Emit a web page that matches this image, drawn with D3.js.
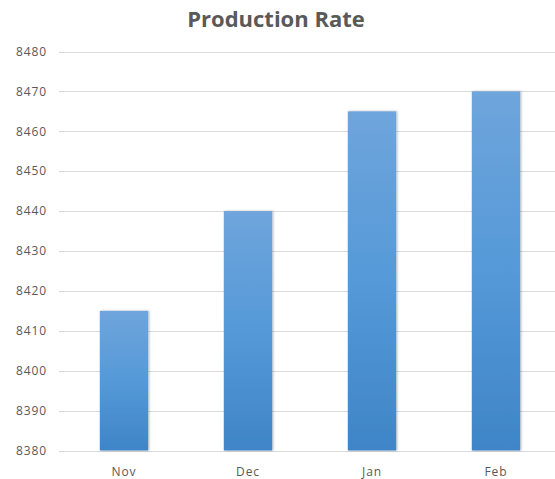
<!DOCTYPE html>
<html>
<head>
<meta charset="utf-8">
<script src="https://cdn.jsdelivr.net/npm/d3@7"></script>
<style>
  body { margin: 0; background: #fff; }
  svg { display: block; font-family: "Open Sans", "Liberation Sans", sans-serif; }
</style>
</head>
<body>
<div id="chart"></div>
<script>
// chart data
const months = ['Nov', 'Dec', 'Jan', 'Feb'];
const rates = [8415, 8440, 8465, 8470];
const yTicks = [8380, 8390, 8400, 8410, 8420, 8430, 8440, 8450, 8460, 8470, 8480];

const width = 555;
const height = 479;
const margin = { top: 51.5, right: -3, bottom: 28.5, left: 62 };

const svg = d3.select('#chart')
    .append('svg')
    .attr('width', width)
    .attr('height', height);

// bar gradient, lighter at the top
const defs = svg.append('defs');
const grad = defs.append('linearGradient')
    .attr('id', 'barGrad')
    .attr('x1', 0).attr('y1', 0).attr('x2', 0).attr('y2', 1);
grad.append('stop').attr('offset', '0%').attr('stop-color', '#6fa5dc');
grad.append('stop').attr('offset', '50%').attr('stop-color', '#5599d8');
grad.append('stop').attr('offset', '100%').attr('stop-color', '#3f85c7');

const shadow = defs.append('filter').attr('id', 'shadow')
    .attr('x', '-20%').attr('y', '-5%').attr('width', '140%').attr('height', '110%');
shadow.append('feDropShadow')
    .attr('dx', 1).attr('dy', 0).attr('stdDeviation', 1.2)
    .attr('flood-color', '#000').attr('flood-opacity', 0.3);

const x = d3.scaleBand()
    .domain(months)
    .range([margin.left, width - margin.right])
    .paddingInner(0.61)
    .paddingOuter(0.305);

const y = d3.scaleLinear()
    .domain([8380, 8480])
    .range([height - margin.bottom, margin.top]);

// gridlines
svg.append('g')
    .selectAll('line')
    .data(yTicks)
    .join('line')
    .attr('x1', 59)
    .attr('x2', width)
    .attr('y1', d => Math.round(y(d)) + 0.5)
    .attr('y2', d => Math.round(y(d)) + 0.5)
    .attr('stroke', '#d9d9d9')
    .attr('stroke-width', 1.2);

// y tick labels
svg.append('g')
    .selectAll('text')
    .data(yTicks)
    .join('text')
    .attr('x', 47)
    .attr('y', d => y(d))
    .attr('dy', '0.35em')
    .attr('text-anchor', 'end')
    .attr('font-size', 12)
    .attr('letter-spacing', 0.9)
    .attr('fill', '#595959')
    .text(d => d);

// bars
svg.append('g')
    .selectAll('rect')
    .data(rates)
    .join('rect')
    .attr('x', (d, i) => x(months[i]))
    .attr('y', d => y(d))
    .attr('width', x.bandwidth())
    .attr('height', d => y(8380) - y(d))
    .attr('fill', 'url(#barGrad)')
    .attr('filter', 'url(#shadow)');

// category labels
svg.append('g')
    .selectAll('text')
    .data(months)
    .join('text')
    .attr('x', d => x(d) + x.bandwidth() / 2)
    .attr('y', 476)
    .attr('text-anchor', 'middle')
    .attr('font-size', 12)
    .attr('letter-spacing', 0.9)
    .attr('fill', '#595959')
    .text(d => d);

// title
svg.append('text')
    .attr('x', 276)
    .attr('y', 27)
    .attr('text-anchor', 'middle')
    .attr('font-size', 22)
    .attr('font-weight', 'bold')
    .attr('fill', '#595959')
    .text('Production Rate');
</script>
</body>
</html>
